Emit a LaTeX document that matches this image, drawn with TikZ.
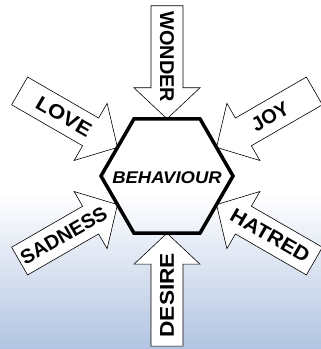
\documentclass[tikz,border=0pt]{standalone}
\usepackage{fontspec}
\setmainfont{Liberation Sans}
\definecolor{bgblue}{RGB}{178,196,226}
\begin{document}
\begin{tikzpicture}[x=1bp,y=1bp,
  arr/.style={draw=black, line width=0.6bp, fill=white, line join=miter},
  lbl/.style={font=\bfseries\fontsize{20}{20}\selectfont, inner sep=0pt},
  hex/.style={draw=black, line width=3.5bp, line join=miter},
  centre/.style={font=\bfseries\itshape\fontsize{17}{17}\selectfont, inner sep=0pt}]
\useasboundingbox (0,0) rectangle (321,349);
\fill[white] (0,0) rectangle (321,349);
\shade[top color=white, bottom color=bgblue] (0,0) rectangle (321,155);
\coordinate (C) at (167,173);
\newcommand\emarrow[5]{%
  \begin{scope}[shift={(C)}, rotate=#1]
    \draw[arr] (-57.2,0) -- (-88.2,33) -- (-88.2,16) -- (-170.2,16)
      -- (-170.2,-16) -- (-88.2,-16) -- (-88.2,-33) -- cycle;
    \coordinate (#2pos) at (-119.2,0);
  \end{scope}
  \node[lbl, rotate=#1+#4] (#2) at (#2pos) {\scalebox{#5}[1]{#3}};}
\emarrow{-90}{wonder}{WONDER}{0}{1.0}
\emarrow{90}{desire}{DESIRE}{0}{1.14}
\emarrow{-30}{love}{LOVE}{0}{1.12}
\emarrow{210}{joy}{JOY}{180}{1.0}
\emarrow{30}{sadness}{SADNESS}{0}{1.0}
\emarrow{150}{hatred}{HATRED}{180}{1.08}
\draw[hex, shift={(C)}] (0:66) -- (60:66) -- (120:66) -- (180:66) -- (240:66) -- (300:66) -- cycle;
\node[centre] (beh) at (167,171) {\scalebox{1.09}[1]{BEHAVIOUR}};
\end{tikzpicture}
\end{document}
